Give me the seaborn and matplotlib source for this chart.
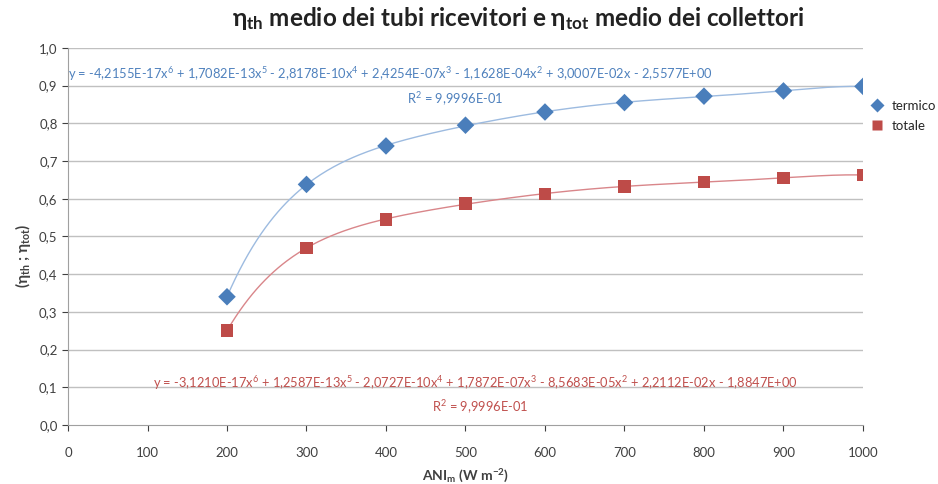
import numpy as np
import pandas as pd
import matplotlib
matplotlib.use("Agg")
import matplotlib.pyplot as plt
from matplotlib.ticker import FuncFormatter
import seaborn as sns

ani = [200, 300, 400, 500, 600, 700, 800, 900, 1000]
eta_termico = [0.34, 0.638, 0.74, 0.795, 0.83, 0.855, 0.872, 0.886, 0.898]
eta_totale = [0.25, 0.47, 0.545, 0.587, 0.613, 0.632, 0.645, 0.655, 0.663]

eq_termico = "y = -4,2155E-17x$^6$ + 1,7082E-13x$^5$ - 2,8178E-10x$^4$ + 2,4254E-07x$^3$ - 1,1628E-04x$^2$ + 3,0007E-02x - 2,5577E+00"
eq_totale = "y = -3,1210E-17x$^6$ + 1,2587E-13x$^5$ - 2,0727E-10x$^4$ + 1,7872E-07x$^3$ - 8,5683E-05x$^2$ + 2,2112E-02x - 1,8847E+00"
r2_text = "R$^2$ = 9,9996E-01"

blue = "#4a7ebb"
red = "#be4b48"

df = pd.DataFrame({
    "ANI": ani * 2,
    "eta": eta_termico + eta_totale,
    "serie": ["termico"] * len(ani) + ["totale"] * len(ani),
})

# polynomial trend lines (6th order, like the excel ones)
xs = np.linspace(200, 1000, 300)
fits = []
for name, vals in [("termico", eta_termico), ("totale", eta_totale)]:
    p = np.polynomial.Polynomial.fit(ani, vals, 6)
    fits.append(pd.DataFrame({"ANI": xs, "eta": p(xs), "serie": name}))
trend = pd.concat(fits)

sns.set_style("white")
plt.rcParams["font.family"] = ["Lato", "DejaVu Sans"]
plt.rcParams["mathtext.fontset"] = "custom"
plt.rcParams["mathtext.rm"] = "Lato"
plt.rcParams["mathtext.it"] = "Lato:italic"
plt.rcParams["mathtext.bf"] = "Lato:bold"

fig = plt.figure(figsize=(9.38, 4.84), dpi=100)
ax = fig.add_axes([0.0725, 0.122, 0.8475, 0.779])

for y in np.arange(0.1, 1.01, 0.1):
    ax.axhline(y, color="#c0c0c0", lw=1, zorder=0)

sns.lineplot(data=trend, x="ANI", y="eta", hue="serie",
             palette={"termico": "#9dbbe0", "totale": "#d9868a"},
             lw=1, legend=False, ax=ax, zorder=1)
sns.scatterplot(data=df, x="ANI", y="eta", hue="serie", style="serie",
                markers={"termico": "D", "totale": "s"},
                palette={"termico": blue, "totale": red},
                s=80, edgecolor="none", ax=ax, zorder=3)

ax.set_xlim(0, 1000)
ax.set_ylim(0, 1.0)
ax.set_xticks(np.arange(0, 1001, 100))
ax.set_yticks(np.arange(0, 1.01, 0.1))
ax.yaxis.set_major_formatter(FuncFormatter(lambda v, _: f"{v:.1f}".replace(".", ",")))
ax.tick_params(axis="both", labelsize=9.5, colors="#404040", length=4, direction="out")
ax.tick_params(axis="x", pad=12)
ax.xaxis.set_ticks_position("bottom")
ax.yaxis.set_ticks_position("left")
for side in ["top", "right"]:
    ax.spines[side].set_visible(False)
for side in ["left", "bottom"]:
    ax.spines[side].set_color("#a0a0a0")

ax.set_xlabel(r"ANI$_\mathbf{m}$ (W m$^\mathbf{-2}$)", fontsize=10, fontweight="bold",
              color="#404040", labelpad=6)
ax.set_ylabel(r"(η$_\mathbf{th}$ ; η$_\mathbf{tot}$)", fontsize=11, fontweight="bold",
              color="#404040", labelpad=6)
ax.yaxis.set_label_coords(-0.044, 0.45)
fig.suptitle(r"η$_\mathbf{th}$ medio dei tubi ricevitori e η$_\mathbf{tot}$ medio dei collettori",
             x=0.553, y=0.99, fontsize=17.5, fontweight="bold", color="#222222")

ax.text(0, 0.93, eq_termico, color="#4f81bd", fontsize=9.3, ha="left", va="center")
ax.text(487, 0.865, r2_text, color="#4f81bd", fontsize=9.3, ha="center", va="center")
ax.text(512, 0.11, eq_totale, color="#c0504d", fontsize=9.3, ha="center", va="center")
ax.text(518, 0.047, r2_text, color="#c0504d", fontsize=9.3, ha="center", va="center")

handles, labels = ax.get_legend_handles_labels()
ax.legend(handles, labels, loc="center left", bbox_to_anchor=(0.995, 0.82),
          frameon=False, fontsize=9.5, handletextpad=0.1, markerscale=0.75,
          borderaxespad=0, labelspacing=0.6)

fig.savefig("out.png", dpi=100)
